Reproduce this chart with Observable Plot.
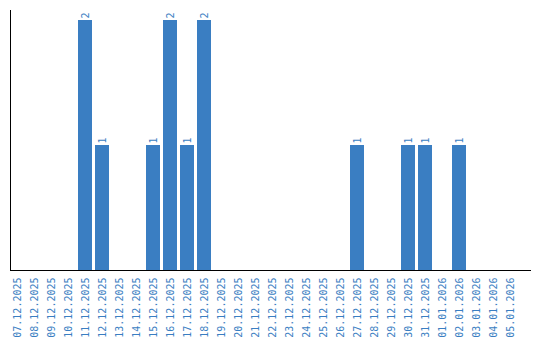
<!DOCTYPE html>
<html>
<head>
<meta charset="utf-8">
<script src="https://cdn.jsdelivr.net/npm/d3@7"></script>
<script src="https://cdn.jsdelivr.net/npm/@observablehq/plot@0.6"></script>
<style>
  html, body { margin: 0; padding: 0; background: #fff; }
</style>
</head>
<body>
<div id="chart"></div>
<script>
const dates = [
  "07.12.2025","08.12.2025","09.12.2025","10.12.2025","11.12.2025","12.12.2025",
  "13.12.2025","14.12.2025","15.12.2025","16.12.2025","17.12.2025","18.12.2025",
  "19.12.2025","20.12.2025","21.12.2025","22.12.2025","23.12.2025","24.12.2025",
  "25.12.2025","26.12.2025","27.12.2025","28.12.2025","29.12.2025","30.12.2025",
  "31.12.2025","01.01.2026","02.01.2026","03.01.2026","04.01.2026","05.01.2026"
];
const counts = [
  0,0,0,0,2,1,
  0,0,1,2,1,2,
  0,0,0,0,0,0,
  0,0,1,0,0,1,
  1,0,1,0,0,0
];

const data = dates.map((d, i) => ({date: d, count: counts[i]}));
const nonzero = data.filter(d => d.count > 0);

const blue = "#3a7ec2";
const font = "DejaVu Sans Mono";

const chart = Plot.plot({
  width: 540,
  height: 340,
  marginLeft: 10,
  marginRight: 10,
  marginTop: 10,
  marginBottom: 70,
  style: {fontFamily: font, fontSize: "10px", background: "#fff"},
  x: {domain: dates, range: [10, 517], paddingInner: 3/17, paddingOuter: 0, label: null},
  y: {domain: [0, 2.08], axis: null},
  marks: [
    Plot.barY(nonzero, {x: "date", y: "count", fill: blue}),
    Plot.text(nonzero, {
      x: "date", y: "count", text: d => String(d.count),
      rotate: -90, textAnchor: "start", dy: -2, fill: blue,
      fontFamily: font, fontSize: 10
    }),
    Plot.axisX({
      tickRotate: -90, tickSize: 0, tickPadding: 7, fill: blue,
      fontFamily: font, fontSize: 10, label: null
    }),
    Plot.frame({anchor: "left", stroke: "#000"}),
    Plot.frame({anchor: "bottom", stroke: "#000"})
  ]
});
document.getElementById("chart").appendChild(chart);
</script>
</body>
</html>
